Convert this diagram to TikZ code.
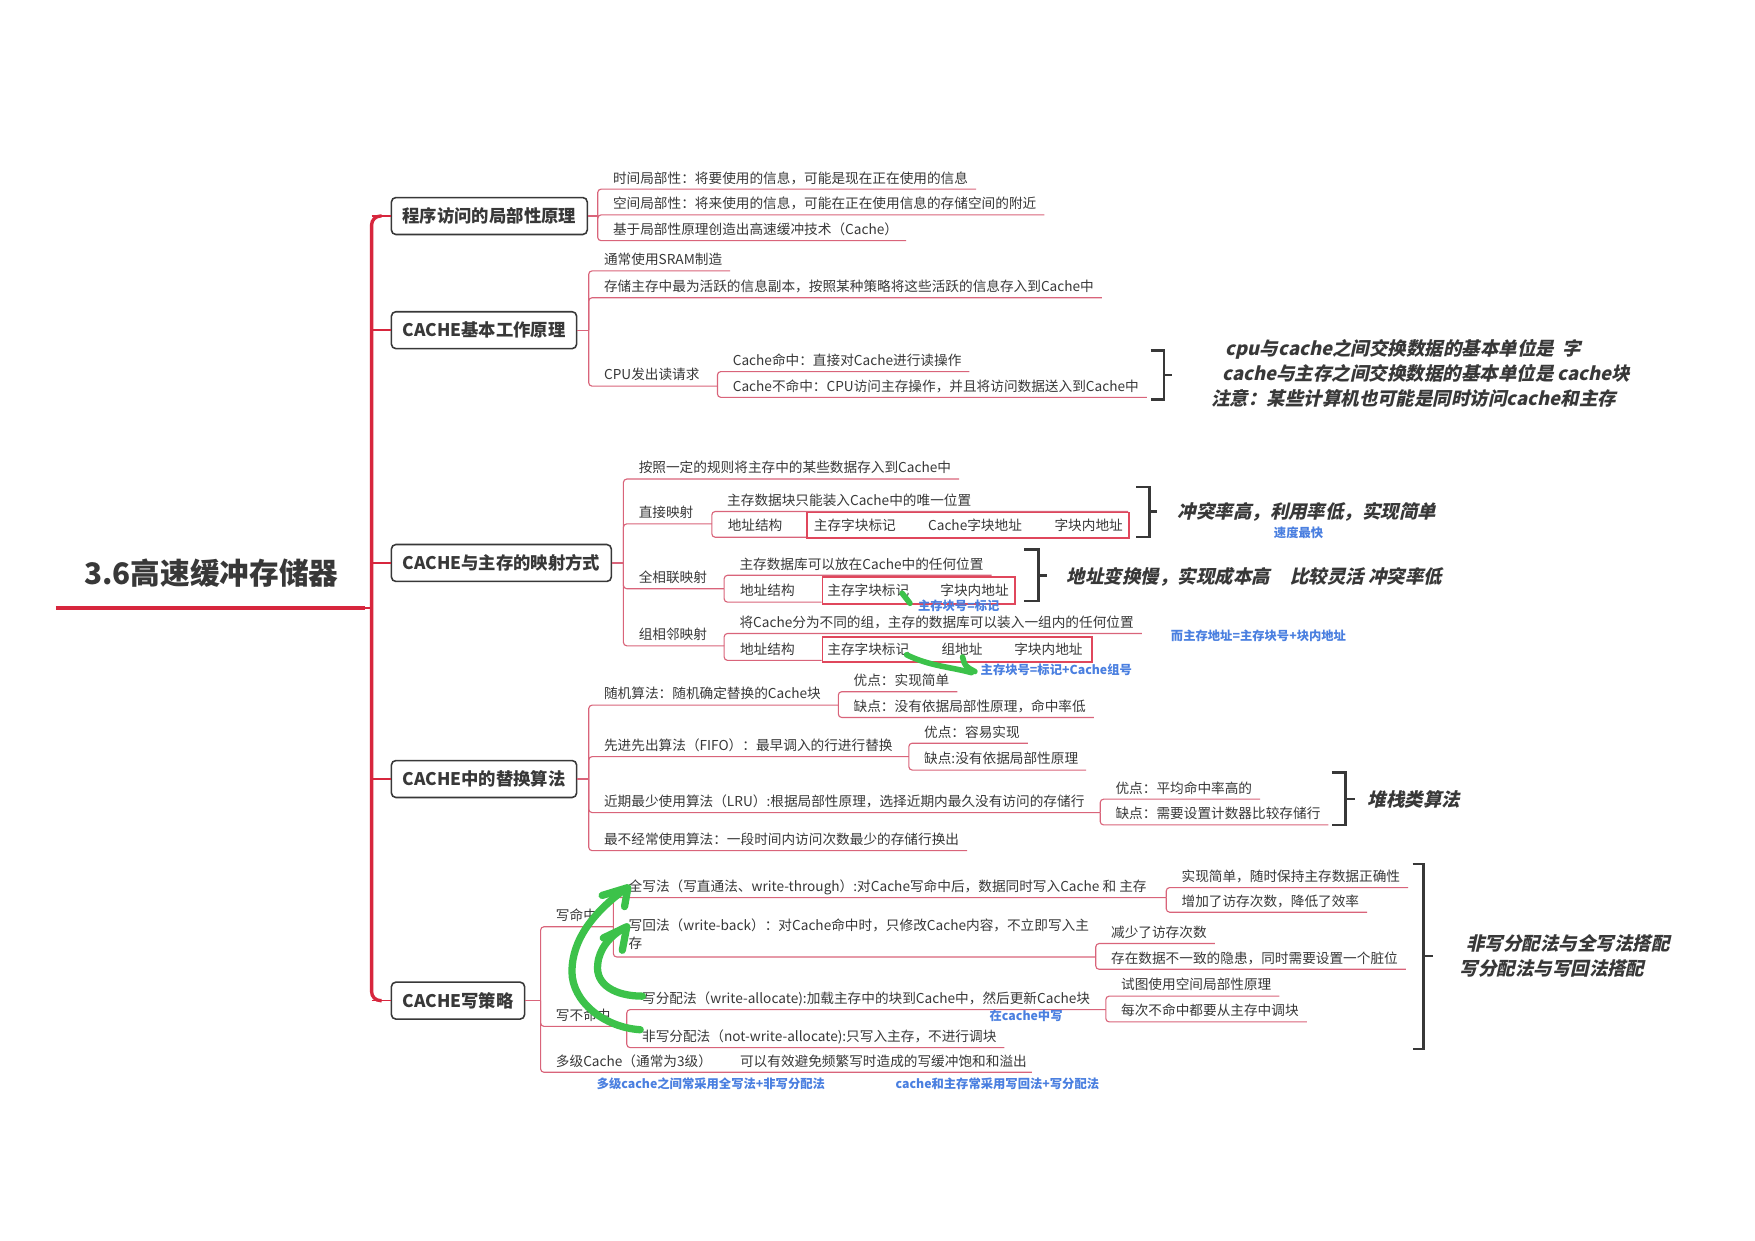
\documentclass[tikz,border=0pt]{standalone}
\usepackage{fontspec}
\setmainfont{Noto Sans CJK SC}
\newfontfamily\notefont{Noto Sans CJK SC}[FakeSlant=0.22]
\usetikzlibrary{calc}
\definecolor{txt}{HTML}{383838}
\definecolor{rootred}{HTML}{D7263D}
\definecolor{ulred}{HTML}{D9647A}
\definecolor{boxred}{HTML}{E0475C}
\definecolor{blu}{HTML}{4A7FE0}
\definecolor{grn}{HTML}{3CC24A}
\tikzset{
 leaf/.style={inner sep=0pt, text=txt, font=\fontsize{12.2}{16}\selectfont},
 ul/.style={draw=ulred, line width=1pt, rounded corners=3pt},
 mainbox/.style={draw=txt, line width=1.4pt, rounded corners=4pt, fill=white, text=txt,
   font=\fontsize{15.5}{18}\selectfont\bfseries, inner xsep=10pt, minimum height=33pt, anchor=west},
 note/.style={inner sep=0pt, text=txt, font=\notefont\bfseries\fontsize{16.5}{20}\selectfont, anchor=west},
 bluenote/.style={inner sep=0pt, text=blu, font=\bfseries\fontsize{11}{13}\selectfont, anchor=west},
 brk/.style={draw=txt, line width=2.2pt},
 pen/.style={draw=grn, line width=6.5pt, line cap=round, line join=round},
 redbox/.style={draw=boxred, line width=1.6pt, inner sep=0pt, anchor=north west},
 fld/.style={inner sep=0pt, text=txt, font=\fontsize{12.2}{16}\selectfont, anchor=west},
}
% leaf with automatic underline end
\newcommand\lf[5]{%
 \node[leaf, anchor=base west] (#1) at ({#2+13.5},{#4-5.5}) {#5};
 \path (#1.east) ++(7,0) coordinate (#1e);
 \draw[ul] (#2,#3) -- (#2,#4) -- (#1e |- #2,#4);}
% leaf with explicit underline end
\newcommand\lfx[6]{%
 \node[leaf, anchor=base west] (#1) at ({#2+13.5},{#4-5.5}) {#6};
 \draw[ul] (#2,#3) -- (#2,#4) -- (#5,#4);}
% bracket: x1 x2 ytop ybot ytick xtick
\newcommand\brkt[6]{%
 \draw[brk] (#1,#3) -- (#2,#3) -- (#2,#4) -- (#1,#4);
 \draw[brk] (#2,#5) -- (#6,#5);}
\begin{document}
\begin{tikzpicture}[x=1pt,y=-1pt]
\useasboundingbox[fill=white] (0,0) rectangle (1568,1108);

% ---------- root ----------
\node[anchor=west, inner sep=0pt, text=txt, font=\bfseries\fontsize{26.5}{30}\selectfont] (root) at (75,512) {3.6高速缓冲存储器};
\draw[rootred, line width=4pt] (50,543) -- (326,543);
\draw[rootred, line width=1.5pt] (326,543) -- (332,543);

% ---------- main boxes ----------
\node[mainbox] (b1) at (349,193) {程序访问的局部性原理};
\node[mainbox] (b2) at (349,295) {CACHE基本工作原理};
\node[mainbox] (b3) at (349,503) {CACHE与主存的映射方式};
\node[mainbox] (b4) at (349,696) {CACHE中的替换算法};
\node[mainbox] (b5) at (349,894) {CACHE写策略};

\draw[rootred, line width=3pt, rounded corners=8pt] (341,193) -- (332,193) -- (332,894) -- (341,894);
\foreach \b/\yy in {b1/193,b2/295,b3/503,b4/696,b5/894}
  \draw[rootred, line width=1.3pt] (332,\yy) -- (\b.west);

% ---------- box 1 ----------
\draw[ul] (b1.east) -- (534,193);
\lf{a1}{534}{193}{169}{时间局部性：将要使用的信息，可能是现在正在使用的信息}
\lf{a2}{534}{193}{192}{空间局部性：将来使用的信息，可能在正在使用信息的存储空间的附近}
\lf{a3}{534}{193}{215}{基于局部性原理创造出高速缓冲技术（Cache）}

% ---------- box 2 ----------
\draw[ul] (b2.east) -- (526,295);
\lf{c1}{526}{295}{242}{通常使用SRAM制造}
\lf{c2}{526}{295}{266}{存储主存中最为活跃的信息副本，按照某种策略将这些活跃的信息存入到Cache中}
\lfx{c3}{526}{295}{345}{641}{CPU发出读请求}
\lf{c31}{641}{345}{332}{Cache命中：直接对Cache进行读操作}
\lf{c32}{641}{345}{355}{Cache不命中：CPU访问主存操作，并且将访问数据送入到Cache中}
\brkt{1028}{1040}{313}{357}{335}{1047}
\node[note] (n1a) at (1095,312) {cpu与cache之间交换数据的基本单位是\ \ 字};
\node[note] (n1b) at (1092,334) {cache与主存之间交换数据的基本单位是 cache块};
\node[note] (n1c) at (1082,356) {注意：某些计算机也可能是同时访问cache和主存};

% ---------- box 3 ----------
\draw[ul] (b3.east) -- (557,503);
\lf{d1}{557}{503}{428}{按照一定的规则将主存中的某些数据存入到Cache中}
\lfx{d2}{557}{503}{468}{636}{直接映射}
\lfx{d21}{636}{468}{457}{1008}{主存数据块只能装入Cache中的唯一位置}
\draw[ul] (636,468) -- (636,480) -- (720,480);
\node[redbox, minimum width=288pt, minimum height=23pt] (rb1) at (720,457) {};
\node[fld] (d22) at (650,469) {地址结构};
\node[fld] (d22a) at (727,469) {主存字块标记};
\node[fld] (d22b) at (829,469) {Cache字块地址};
\node[fld] (d22c) at (942,469) {字块内地址};
\brkt{1015}{1027}{435}{480}{457}{1034}
\node[note] (n2) at (1052,457) {冲突率高，利用率低，实现简单};
\node[bluenote] (bl1) at (1138,476) {速度最快};

\lfx{d3}{557}{503}{526}{647}{全相联映射}
\lf{d31}{647}{526}{514}{主存数据库可以放在Cache中的任何位置}
\draw[ul] (647,526) -- (647,538) -- (734,538);
\node[redbox, minimum width=172pt, minimum height=24pt] (rb2) at (734,515) {};
\node[fld] (d32) at (661,527) {地址结构};
\node[fld] (d32a) at (739,527) {主存字块标记};
\node[fld] (d32b) at (840,527) {字块内地址};
\brkt{915}{928}{491}{537}{514}{935}
\node[note] (n3) at (953,515) {地址变换慢，实现成本高\hspace{1.1em}比较灵活 冲突率低};
\node[bluenote] (bl2) at (820,541) {主存块号=标记};

\lfx{d4}{557}{503}{577}{647}{组相邻映射}
\lf{d41}{647}{577}{566}{将Cache分为不同的组，主存的数据库可以装入一组内的任何位置}
\draw[ul] (647,577) -- (647,590) -- (734,590);
\node[redbox, minimum width=241pt, minimum height=23pt] (rb3) at (734,568) {};
\node[fld] (d42) at (661,580) {地址结构};
\node[fld] (d42a) at (739,580) {主存字块标记};
\node[fld] (d42b) at (841,580) {组地址};
\node[fld] (d42c) at (906,580) {字块内地址};
\node[bluenote] (bl3) at (876,598) {主存块号=标记+Cache组号};
\node[bluenote] (bl4) at (1046,568) {而主存地址=主存块号+块内地址};

% green squiggles (mapping)
\draw[pen, line width=5pt] (806,530) -- (813,539);
\draw[pen, line width=5pt] (810,585) .. controls (830,595) and (850,596) .. (868,601);
\draw[pen, line width=5pt] (860,587) .. controls (862,595) .. (871,600);

% ---------- box 4 ----------
\draw[ul] (b4.east) -- (526,696);
\lfx{e1}{526}{696}{630}{749}{随机算法：随机确定替换的Cache块}
\lf{e11}{749}{630}{618}{优点：实现简单}
\lf{e12}{749}{630}{641}{缺点：没有依据局部性原理，命中率低}
\lfx{e2}{526}{696}{676}{812}{先进先出算法（FIFO）：最早调入的行进行替换}
\lf{e21}{812}{676}{664}{优点：容易实现}
\lf{e22}{812}{676}{688}{缺点:没有依据局部性原理}
\lfx{e3}{526}{696}{726}{983}{近期最少使用算法（LRU）:根据局部性原理，选择近期内最久没有访问的存储行}
\lf{e31}{983}{726}{714}{优点：平均命中率高的}
\lf{e32}{983}{726}{737}{缺点：需要设置计数器比较存储行}
\lf{e4}{526}{696}{760}{最不经常使用算法：一段时间内访问次数最少的存储行换出}
\brkt{1190}{1202}{690}{737}{714}{1211}
\node[note] (n4) at (1222,714) {堆栈类算法};

% ---------- box 5 ----------
\draw[ul] (b5.east) -- (483,894);
\lfx{f1}{483}{894}{828}{548}{写命中}
\lfx{f11}{548}{828}{802}{1042}{全写法（写直通法、write-through）:对Cache写命中后，数据同时写入Cache 和 主存}
\lf{f111}{1042}{802}{793}{实现简单，随时保持主存数据正确性}
\lf{f112}{1042}{802}{815}{增加了访存次数，降低了效率}
\node[leaf, anchor=north west, align=left] (f12) at (561.5,821) {写回法（write-back）：对Cache命中时，只修改Cache内容，不立即写入主\\存};
\draw[ul] (548,828) -- (548,855) -- (979,855);
\lf{f121}{979}{855}{843}{减少了访存次数}
\lf{f122}{979}{855}{866}{存在数据不一致的隐患，同时需要设置一个脏位}

\lfx{f2}{483}{894}{917}{560}{写不命中}
\lfx{f21}{560}{917}{902}{988}{写分配法（write-allocate):加载主存中的块到Cache中，然后更新Cache块}
\lf{f211}{988}{902}{890}{试图使用空间局部性原理}
\lf{f212}{988}{902}{913}{每次不命中都要从主存中调块}
\lf{f22}{560}{917}{936}{非写分配法（not-write-allocate):只写入主存，不进行调块}
\node[bluenote] (bl5) at (884,908) {在cache中写};

\lfx{f3}{483}{894}{958}{922}{多级Cache（通常为3级）}
\node[leaf, anchor=base west] (f31) at (661,952.5) {可以有效避免频繁写时造成的写缓冲饱和和溢出};
\node[bluenote] (bl6) at (533,968) {多级cache之间常采用全写法+非写分配法};
\node[bluenote] (bl7) at (800,968) {cache和主存常采用写回法+写分配法};

\brkt{1262}{1272}{772}{937}{854}{1280}
\node[note] (n5a) at (1310,843) {非写分配法与全写法搭配};
\node[note] (n5b) at (1304,865) {写分配法与写回法搭配};

% green hand-drawn arrows (write strategy)
\draw[pen] (572,920) .. controls (540,918) and (511,895) .. (511,868) .. controls (511,840) and (530,815) .. (559,794);
\draw[pen] (538,800) -- (561,793) -- (558,810);
\draw[pen] (574,890) .. controls (550,890) and (532,880) .. (534,862) .. controls (535,848) and (545,836) .. (558,829);
\draw[pen] (539,838) -- (560,828) -- (556,849);
\end{tikzpicture}
\end{document}
